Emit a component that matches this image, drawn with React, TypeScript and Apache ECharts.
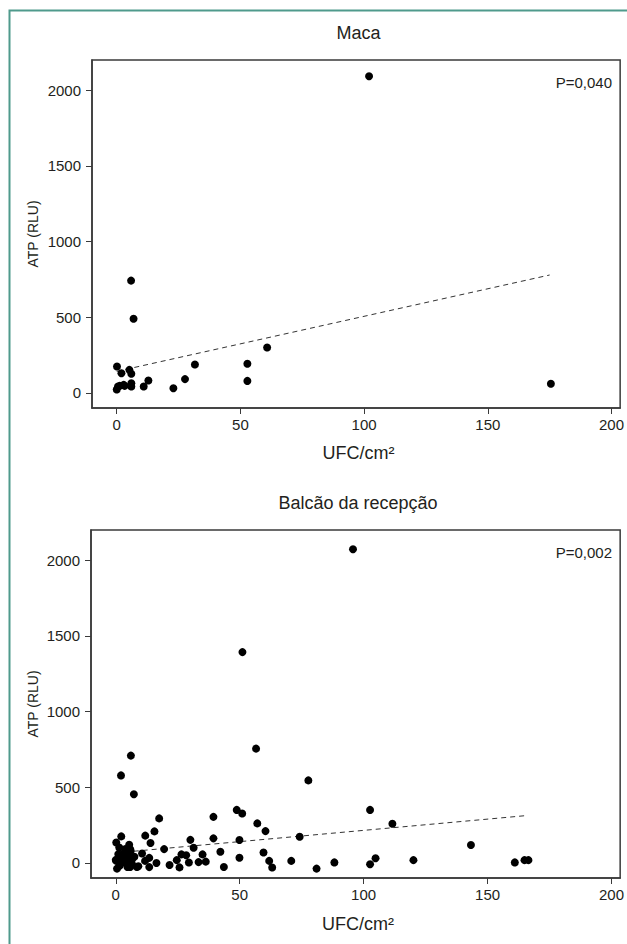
import React, { useEffect, useRef } from "react";
import * as echarts from "echarts";

const xTicks = [0, 50, 100, 150, 200];
const yTicks = [0, 500, 1000, 1500, 2000];
const panelTitles = ["Maca", "Balcão da recepção"];
const pLabels = ["P=0,040", "P=0,002"];
const xTitle = "UFC/cm²";
const yTitle = "ATP (RLU)";

const macaX = [102, 5.8, 6.8, 175.5, 60.8, 52.8, 52.8, 31.6, 27.6, 22.9, 12.8, 10.9, 0.1, 1.9, 5.1, 5.9, 0, 0.5, 2.8, 5.9, 5.9, 1.2, 3.2];
const macaY = [2093, 742, 490, 60, 300, 192, 79, 188, 91, 31, 82, 42, 174, 130, 152, 126, 22, 42, 53, 64, 42, 46, 46];
const macaTrendX = [0, 175];
const macaTrendY = [142, 779];

const balcaoX = [95.7, 51.1, 56.6, 6.1, 2.1, 77.7, 7.3, 48.8, 51, 102.6, 39.4, 17.5, 57.1, 111.6, 60.4, 15.6, 11.9, 14.0, 74.2, 2.2, 0.2, 39.4, 30.1, 49.9, 5.4, 143.3, 1.4, 31.4, 3.8, 19.5, 6.0, 42.2, 59.6, 10.6, 35, 28.4, 26.5, 49.9, 104.8, 13.5, 24.6, 36.3, 33.4, 29.5, 61.9, 70.8, 120.1, 164.9, 166.5, 161, 88.2, 102.6, 81, 63.1, 43.6, 25.7, 21.7, 16.4, 13.5, 11.8, 9.1, 0.5, 0.2, 1, 3.4, 4.7, 5.8, 6.6, 5, 3.7, 1.8, 8.5, 5.8, 0, 1.5, 3, 4, 6.5, 7.5, 2.5];
const balcaoY = [2073, 1393, 755, 709, 578, 545, 454, 350, 326, 350, 304, 294, 261, 259, 210, 208, 180, 131, 173, 175, 135, 162, 152, 151, 120, 118, 102, 100, 91, 91, 80, 74, 68, 62, 56, 50, 56, 34, 31, 33, 18, 8, 5, 2, 13, 13, 18, 18, 18, 3, 3, -9, -38, -31, -27, -30, -14, -1, -28, 13, -22, -38, 13, 58, 2, -27, 91, 25, 47, 35, 13, -27, -27, 20, -20, 60, 15, -5, 40, 40];
const balcaoTrendX = [0, 166];
const balcaoTrendY = [66, 313];

const FONT = '"Liberation Sans", Arial, sans-serif';
const TEXT = "#231f20";
const AXIS = "#3a3a3a";

const zip = (xs: number[], ys: number[]) => xs.map((x, i) => [x, ys[i]]);

const grids = [
  { left: 92, top: 60, width: 533, height: 348 },
  { left: 91, top: 530, width: 534, height: 348 },
];

function xAxisFor(i: number) {
  return {
    type: "value",
    gridIndex: i,
    min: -10,
    max: 203.5,
    splitLine: { show: false },
    axisLine: { show: true, onZero: false, lineStyle: { color: AXIS, width: 1.5 } },
    axisTick: { show: true, length: 6, inside: false, customValues: xTicks, lineStyle: { color: AXIS, width: 1 } },
    axisLabel: { customValues: xTicks, margin: 9, fontSize: 15, fontFamily: FONT, color: TEXT, formatter: (v: number) => String(v) },
  };
}

function yAxisFor(i: number) {
  return {
    type: "value",
    gridIndex: i,
    min: -100,
    max: 2200,
    splitLine: { show: false },
    axisLine: { show: true, onZero: false, lineStyle: { color: AXIS, width: 1.5 } },
    axisTick: { show: true, length: 6, inside: false, customValues: yTicks, lineStyle: { color: AXIS, width: 1 } },
    axisLabel: { customValues: yTicks, margin: 11, fontSize: 15, fontFamily: FONT, color: TEXT, formatter: (v: number) => String(v) },
  };
}

export default function App() {
  const ref = useRef<HTMLDivElement>(null);
  useEffect(() => {
    if (!ref.current) return;
    const chart = echarts.init(ref.current, null, { renderer: "svg" });
    const titleY = [33, 503];
    const xTitleY = [453, 924];
    const pY = [82, 552];
    const graphic: any[] = [
      {
        type: "rect",
        silent: true,
        shape: { x: 9.5, y: 10.5, width: 700, height: 1000 },
        style: { fill: "none", stroke: "#4f9a8c", lineWidth: 2 },
      },
    ];
    for (let i = 0; i < 2; i++) {
      const g = grids[i];
      graphic.push({
        type: "text",
        x: g.left + g.width / 2,
        y: titleY[i],
        style: { text: panelTitles[i], font: `18px ${FONT}`, fill: TEXT, align: "center", verticalAlign: "middle" },
      });
      graphic.push({
        type: "text",
        x: g.left + g.width / 2,
        y: xTitleY[i],
        style: { text: xTitle, font: `18px ${FONT}`, fill: TEXT, align: "center", verticalAlign: "middle" },
      });
      graphic.push({
        type: "text",
        x: 33,
        y: g.top + g.height / 2,
        rotation: Math.PI / 2,
        style: { text: yTitle, font: `14px ${FONT}`, fill: TEXT, align: "center", verticalAlign: "middle" },
      });
      graphic.push({
        type: "text",
        x: 612,
        y: pY[i],
        style: { text: pLabels[i], font: `15px ${FONT}`, fill: TEXT, align: "right", verticalAlign: "middle" },
      });
    }
    chart.setOption({
      animation: false,
      backgroundColor: "#fff",
      grid: grids.map((g) => ({ ...g, show: true, borderColor: AXIS, borderWidth: 1.5, backgroundColor: "transparent" })),
      xAxis: [xAxisFor(0), xAxisFor(1)],
      yAxis: [yAxisFor(0), yAxisFor(1)],
      series: [
        {
          type: "line",
          xAxisIndex: 0,
          yAxisIndex: 0,
          data: zip(macaTrendX, macaTrendY),
          symbol: "none",
          lineStyle: { color: "#333", width: 1, type: [5, 4] },
          z: 1,
        },
        {
          type: "scatter",
          xAxisIndex: 0,
          yAxisIndex: 0,
          data: zip(macaX, macaY),
          symbolSize: 8,
          itemStyle: { color: "#000", opacity: 1 },
          z: 2,
        },
        {
          type: "line",
          xAxisIndex: 1,
          yAxisIndex: 1,
          data: zip(balcaoTrendX, balcaoTrendY),
          symbol: "none",
          lineStyle: { color: "#333", width: 1, type: [5, 4] },
          z: 1,
        },
        {
          type: "scatter",
          xAxisIndex: 1,
          yAxisIndex: 1,
          data: zip(balcaoX, balcaoY),
          symbolSize: 8,
          itemStyle: { color: "#000", opacity: 1 },
          z: 2,
        },
      ],
      graphic,
    });
    return () => chart.dispose();
  }, []);
  return <div ref={ref} style={{ position: "fixed", left: 0, top: 0, width: 627, height: 944 }} />;
}
